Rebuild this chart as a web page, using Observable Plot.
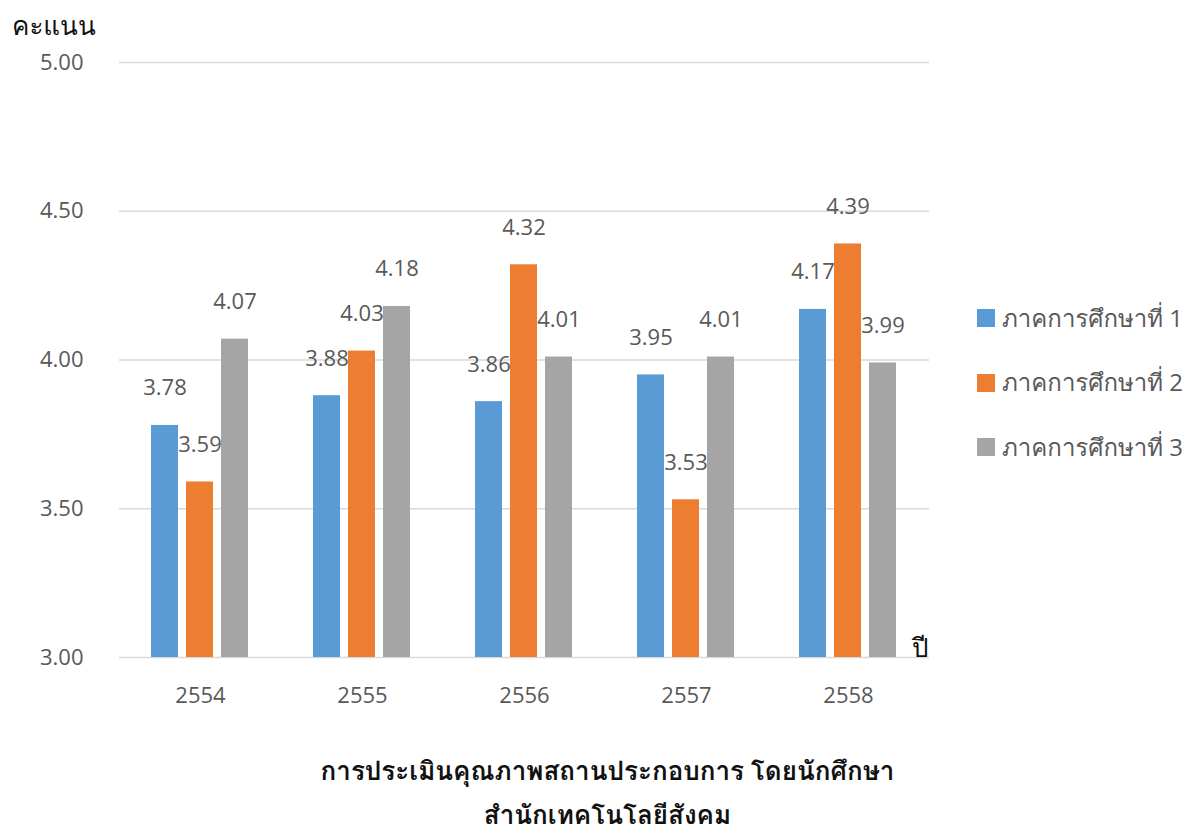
<!DOCTYPE html>
<html><head><meta charset="utf-8">
<script src="https://cdn.jsdelivr.net/npm/d3@7"></script>
<script src="https://cdn.jsdelivr.net/npm/@observablehq/plot@0.6"></script>
<style>
body{margin:0;background:#fff;}
#wrap{position:relative;width:1189px;height:834px;overflow:hidden;font-family:"Open Sans","Loma","Garuda","Tahoma","Noto Sans Thai","Noto Sans",sans-serif;}
#ylab{position:absolute;left:12px;top:7px;font-size:26px;color:#111;line-height:36px;}
#xlab{position:absolute;left:912px;top:629px;font-size:26px;color:#111;line-height:36px;}
#legend{position:absolute;left:977px;top:299px;white-space:nowrap;}
.item{display:flex;align-items:center;height:38px;margin-bottom:26.5px;font-size:24px;color:#595959;white-space:nowrap;}
.sw{width:18px;height:18px;margin-right:7px;flex:none;}
#title{position:absolute;left:0;top:757px;width:1189px;padding-left:26px;box-sizing:border-box;text-align:center;font-size:26px;font-weight:bold;color:#111;line-height:26px;}
#title div + div{margin-top:18px;}
</style></head><body><div id="wrap"></div>
<script>
const years = ["2554","2555","2556","2557","2558"];
const seriesNames = ["ภาคการศึกษาที่ 1","ภาคการศึกษาที่ 2","ภาคการศึกษาที่ 3"];
const term1 = [3.78,3.88,3.86,3.95,4.17];
const term2 = [3.59,4.03,4.32,3.53,4.39];
const term3 = [4.07,4.18,4.01,4.01,3.99];
const colors = ["#5B9BD5","#ED7D31","#A5A5A5"];
const yTicks = [3,3.5,4,4.5,5];
const yAxisTitle = "คะแนน";
const xAxisTitle = "ปี";
const titleLines = ["การประเมินคุณภาพสถานประกอบการ โดยนักศึกษา","สำนักเทคโนโลยีสังคม"];

const seriesList = [term1, term2, term3];
const rows = years.flatMap((yr, i) => seriesList.map((s, j) => ({year: yr, series: seriesNames[j], value: s[i]})));

const plot = Plot.plot({
  width: 1189, height: 730,
  marginLeft: 118, marginRight: 259, marginTop: 62, marginBottom: 73,
  style: {fontFamily: '"Open Sans","Noto Sans",sans-serif', fontSize: "22px", color: "#595959", background: "transparent"},
  fx: {domain: years, padding: 0, label: null, axis: "bottom", tickSize: 0, tickPadding: 30},
  x: {domain: seriesNames, axis: null, paddingInner: 0.222, paddingOuter: 0.867},
  y: {domain: [3, 5], ticks: yTicks, tickFormat: d3.format(".2f"), tickSize: 0, tickPadding: 36, label: null},
  color: {domain: seriesNames, range: colors},
  marks: [
    Plot.ruleY(yTicks, {stroke: "#d9d9d9", strokeWidth: 1.3}),
    Plot.barY(rows, {fx: "year", x: "series", y1: 3, y2: "value", fill: "series"}),
    Plot.text(rows, {fx: "year", x: "series", y: "value", text: d => d.value.toFixed(2), dy: -37, fill: "#595959", fontSize: 22})
  ]
});
const wrap = document.getElementById("wrap");
wrap.appendChild(plot);

const yl = document.createElement("div"); yl.id = "ylab"; yl.textContent = yAxisTitle; wrap.appendChild(yl);
const xl = document.createElement("div"); xl.id = "xlab"; xl.textContent = xAxisTitle; wrap.appendChild(xl);

const lg = document.createElement("div"); lg.id = "legend";
seriesNames.forEach((n, i) => {
  const it = document.createElement("div"); it.className = "item";
  const sw = document.createElement("span"); sw.className = "sw"; sw.style.background = colors[i];
  const tx = document.createElement("span"); tx.textContent = n;
  it.appendChild(sw); it.appendChild(tx); lg.appendChild(it);
});
wrap.appendChild(lg);

const tt = document.createElement("div"); tt.id = "title";
titleLines.forEach(l => { const d = document.createElement("div"); d.textContent = l; tt.appendChild(d); });
wrap.appendChild(tt);
</script>
</body></html>
